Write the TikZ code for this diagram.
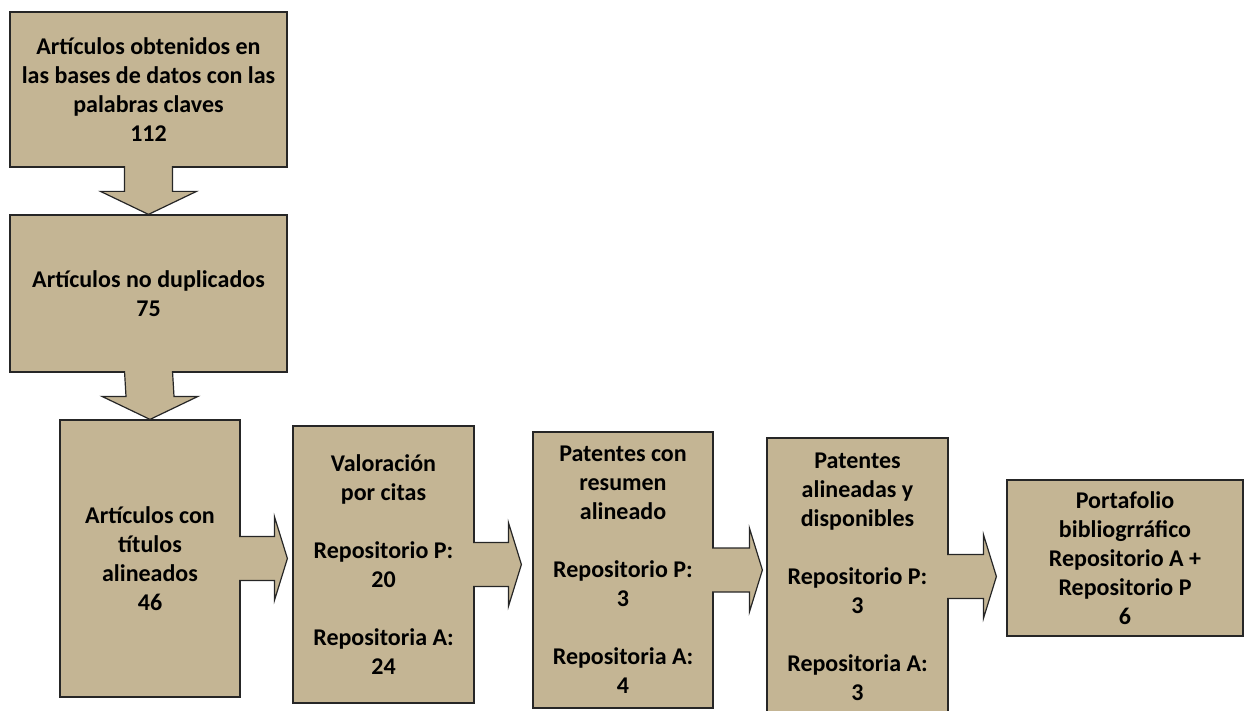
\documentclass[tikz,border=0pt]{standalone}
\usepackage{fontspec}
\setmainfont{Carlito}
\usepackage{xcolor}
\usepackage{tikz}
\usetikzlibrary{calc}
\usetikzlibrary{positioning}
\definecolor{boxtan}{RGB}{196,181,148}
\tikzset{%
  stage/.style={
    draw=black!85,
    line width=1.2pt,
    fill=boxtan,
    align=center,
    inner sep=0pt,
    font=\bfseries\fontsize{24}{29}\selectfont
  },
  blockarrow/.style={
    draw=black!85,
    line width=1.2pt,
    fill=boxtan,
    line join=miter
  },
}
\begin{document}
\begin{tikzpicture}[x=1pt,y=-1pt]
    \useasboundingbox (0,0) rectangle (1246,711);

    \node (obtenidos) [stage,minimum width=277pt,minimum height=155pt] at (148.5,89.5)
    {Artículos obtenidos en\\las bases de datos con las\\palabras claves\\112};
    \node (noduplicados) [stage,minimum width=277pt,minimum height=157pt] at (148.5,293.5)
    {Artículos no duplicados\\75};
    \node (titulos) [stage,minimum width=180pt,minimum height=277pt] at (150,558.5)
    {Artículos con\\títulos\\alineados\\46};
    \node (citas) [stage,minimum width=181pt,minimum height=277pt] at (383.5,564.5)
    {Valoración\\por citas\\[29pt]Repositorio P:\\20\\[29pt]Repositoria A:\\24};
    \node (resumen) [stage,minimum width=180pt,minimum height=276pt] at (623,570)
    {Patentes con\\resumen\\alineado\\[29pt]Repositorio P:\\3\\[29pt]Repositoria A:\\4};
    \node (disponibles) [stage,minimum width=181pt,minimum height=277pt] at (857.5,576.5)
    {Patentes\\alineadas y\\disponibles\\[29pt]Repositorio P:\\3\\[29pt]Repositoria A:\\3};
    \node (portafolio) [stage,minimum width=236pt,minimum height=156pt] at (1125,558)
    {Portafolio\\bibliogrráfico\\Repositorio A +\\Repositorio P\\6};

    % flechas hacia abajo
    \draw [blockarrow] ($(obtenidos.south)+(-24,-1.5)$) -- ($(noduplicados.north)+(-24,-23)$)
      -- ++(-24,0) -- (noduplicados.north) -- ++(48,-23) -- ++(-24,0)
      -- ($(obtenidos.south)+(24,-1.5)$);
    \draw [blockarrow] ($(noduplicados.south)+(-24,-1.5)$) -- ($(titulos.north)+(-24,-23)$)
      -- ++(-24,0) -- (titulos.north) -- ++(48,-23) -- ++(-24,0)
      -- ($(noduplicados.south)+(24,-1.5)$);

    % flechas hacia la derecha
    \draw [blockarrow] ($(titulos.east)+(-1.5,-22)$) -- ($(titulos.east -| citas.west)+(-18,-22)$)
      -- ++(0,-20) -- ($(titulos.east -| citas.west)+(-5,0)$) -- ($(titulos.east -| citas.west)+(-18,42)$)
      -- ++(0,-20) -- ($(titulos.east)+(-1.5,22)$);
    \draw [blockarrow] ($(citas.east)+(-1.5,-22)$) -- ($(citas.east -| resumen.west)+(-24,-22)$)
      -- ++(0,-20) -- ($(citas.east -| resumen.west)+(-11,0)$) -- ($(citas.east -| resumen.west)+(-24,42)$)
      -- ++(0,-20) -- ($(citas.east)+(-1.5,22)$);
    \draw [blockarrow] ($(resumen.east)+(-1.5,-22)$) -- ($(resumen.east -| disponibles.west)+(-17,-22)$)
      -- ++(0,-20) -- ($(resumen.east -| disponibles.west)+(-4,0)$) -- ($(resumen.east -| disponibles.west)+(-17,42)$)
      -- ++(0,-20) -- ($(resumen.east)+(-1.5,22)$);
    \draw [blockarrow] ($(disponibles.east)+(-1.5,-22)$) -- ($(disponibles.east -| portafolio.west)+(-23,-22)$)
      -- ++(0,-20) -- ($(disponibles.east -| portafolio.west)+(-10,0)$) -- ($(disponibles.east -| portafolio.west)+(-23,42)$)
      -- ++(0,-20) -- ($(disponibles.east)+(-1.5,22)$);
\end{tikzpicture}
\end{document}
